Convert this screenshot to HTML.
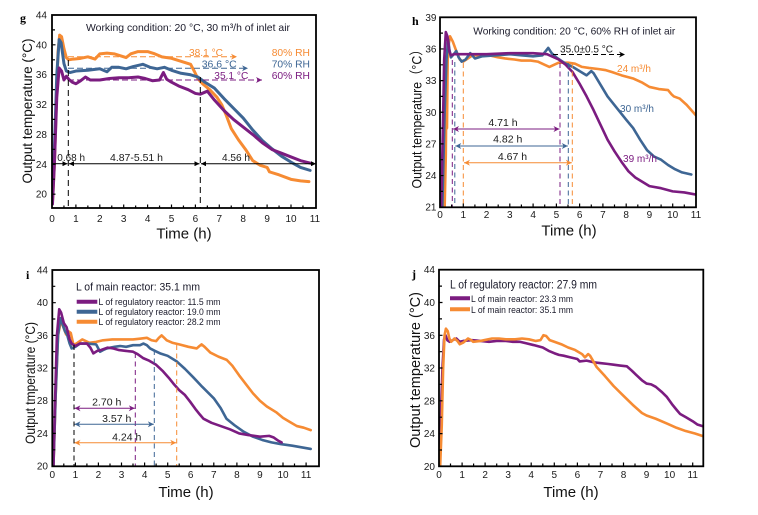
<!DOCTYPE html>
<html><head><meta charset="utf-8"><style>
html,body{margin:0;padding:0;background:#fff;}
svg{display:block;}
text{font-family:"Liberation Sans","Noto Sans CJK SC",sans-serif;}
.t{font-size:10px;fill:#1a1a1a;}
.c{fill:none;stroke-linejoin:round;stroke-linecap:round;}
</style></head><body>
<svg width="758" height="515" viewBox="0 0 758 515" xmlns="http://www.w3.org/2000/svg">
<defs>
<clipPath id="cg"><rect x="52" y="15" width="264" height="193"/></clipPath>
<clipPath id="ch"><rect x="440" y="17" width="256" height="190"/></clipPath>
<clipPath id="ci"><rect x="52" y="270" width="267" height="196"/></clipPath>
<clipPath id="cj"><rect x="439" y="270" width="264" height="196"/></clipPath>
<marker id="ak" viewBox="0 0 10 10" refX="10" refY="5" markerWidth="6" markerHeight="5" markerUnits="userSpaceOnUse" orient="auto-start-reverse"><path d="M0,0 L10,5 L0,10 z" fill="#000"/></marker>
<marker id="ao" viewBox="0 0 10 10" refX="10" refY="5" markerWidth="8" markerHeight="6" markerUnits="userSpaceOnUse" orient="auto-start-reverse"><path d="M0,0 L10,5 L0,10 L3,5 z" fill="#F68B33"/></marker>
<marker id="ab" viewBox="0 0 10 10" refX="10" refY="5" markerWidth="8" markerHeight="6" markerUnits="userSpaceOnUse" orient="auto-start-reverse"><path d="M0,0 L10,5 L0,10 L3,5 z" fill="#3E6694"/></marker>
<marker id="ap" viewBox="0 0 10 10" refX="10" refY="5" markerWidth="8" markerHeight="6" markerUnits="userSpaceOnUse" orient="auto-start-reverse"><path d="M0,0 L10,5 L0,10 L3,5 z" fill="#7B1C80"/></marker>
<marker id="ak2" viewBox="0 0 10 10" refX="10" refY="5" markerWidth="8" markerHeight="6" markerUnits="userSpaceOnUse" orient="auto-start-reverse"><path d="M0,0 L10,5 L0,10 L3,5 z" fill="#000"/></marker>
</defs>
<rect width="758" height="515" fill="#fff"/>

<!-- ================= PANEL g ================= -->
<g clip-path="url(#cg)">
<g transform="translate(52,343.68) scale(23.9,-7.47)">
<polyline class="c" vector-effect="non-scaling-stroke" stroke="#F68B33" stroke-width="3" points="0.02,19 0.1,24 0.18,32 0.25,39 0.32,41.3 0.4,41.1 0.5,39.5 0.6,38.3 0.7,38 0.9,38.1 1.2,38.2 1.5,38.4 1.8,38.1 2,38.8 2.3,38.9 2.6,38.8 2.9,38.5 3.1,38.3 3.3,38.8 3.6,39.1 4,39.1 4.3,38.8 4.6,38.4 5,38.2 5.3,37.9 5.6,37.6 5.8,37.4 5.95,36.5 6.1,35.5 6.3,34.8 6.6,34 6.9,33 7.1,32 7.3,30.5 7.5,28.8 7.8,27.3 8.1,26 8.4,24.5 8.7,23.9 9,23.6 9.1,23 9.5,22.6 10,22 10.4,21.8 10.75,21.7"/>
<polyline class="c" vector-effect="non-scaling-stroke" stroke="#3E6694" stroke-width="3" points="0.02,20 0.1,26 0.2,36 0.3,40.7 0.38,40.3 0.5,37.5 0.6,36.5 0.75,36.3 1,36.5 1.5,36.6 2,36.8 2.3,36.4 2.5,37 2.8,37 3.1,36.8 3.4,37.1 3.8,37.4 4.1,37 4.4,36.8 4.7,37 5,36.6 5.4,36.2 5.8,36 6.1,35.7 6.4,35 6.8,34.2 7.2,32.8 7.6,31.5 8,30.2 8.4,28.6 8.8,27.2 9.2,26.1 9.6,25.1 10,24.3 10.4,23.6 10.8,23.2"/>
<polyline class="c" vector-effect="non-scaling-stroke" stroke="#7B1C80" stroke-width="3" points="0.02,18.7 0.1,24 0.2,33 0.3,36.9 0.4,36.5 0.5,35.3 0.6,35.8 0.7,35.4 0.85,35 1,34.8 1.2,35.2 1.4,35.7 1.6,35.3 2,35.3 2.4,35.5 2.8,35.6 3.2,35.6 3.6,35.7 3.9,35.5 4.2,35.2 4.5,35.3 4.66,36.3 4.8,35.4 5,35 5.3,34.5 5.7,34 6,33.5 6.2,33.4 6.5,33.8 6.8,32.6 7.2,31.2 7.6,30 8,29 8.4,28 8.8,26.9 9.2,26 9.6,25.5 10,25 10.4,24.5 10.9,24.1"/>
</g>
</g>
<!-- g annotations -->
<line x1="68" y1="56.7" x2="237" y2="56.7" stroke="#F68B33" stroke-width="1" stroke-dasharray="6,3" marker-end="url(#ao)"/>
<line x1="68" y1="68.3" x2="248" y2="68.3" stroke="#3E6694" stroke-width="1" stroke-dasharray="6,3" marker-end="url(#ab)"/>
<line x1="68" y1="80" x2="262" y2="80" stroke="#7B1C80" stroke-width="1" stroke-dasharray="6,3" marker-end="url(#ap)"/>
<line x1="68.3" y1="60" x2="68.3" y2="208" stroke="#000" stroke-width="1" stroke-dasharray="6,4"/>
<line x1="200.3" y1="77" x2="200.3" y2="208" stroke="#000" stroke-width="1" stroke-dasharray="6,4"/>
<line x1="52" y1="163.7" x2="67.5" y2="163.7" stroke="#000" stroke-width="1" marker-end="url(#ak)"/>
<line x1="69" y1="163.7" x2="199.5" y2="163.7" stroke="#000" stroke-width="1" marker-start="url(#ak)" marker-end="url(#ak)"/>
<line x1="201" y1="163.7" x2="316" y2="163.7" stroke="#000" stroke-width="1" marker-start="url(#ak)" marker-end="url(#ak)"/>
<text x="57.3" y="161" font-size="10.5" fill="#1a1a1a" textLength="27.7" lengthAdjust="spacingAndGlyphs">0.68 h</text>
<text x="110" y="161" font-size="10.5" fill="#1a1a1a" textLength="53" lengthAdjust="spacingAndGlyphs">4.87-5.51 h</text>
<text x="222" y="161" font-size="10.5" fill="#1a1a1a" textLength="28" lengthAdjust="spacingAndGlyphs">4.56 h</text>
<text x="189" y="56" font-size="10.5" fill="#F68B33" textLength="34" lengthAdjust="spacingAndGlyphs">38.1 °C</text>
<text x="201.7" y="67.7" font-size="10.5" fill="#3E6694" textLength="35" lengthAdjust="spacingAndGlyphs">36.6 °C</text>
<text x="214.3" y="79" font-size="10.5" fill="#7B1C80" textLength="34" lengthAdjust="spacingAndGlyphs">35.1 °C</text>
<text x="271.7" y="56" font-size="10.5" fill="#F68B33" textLength="38.3" lengthAdjust="spacingAndGlyphs">80% RH</text>
<text x="271.7" y="67.7" font-size="10.5" fill="#3E6694" textLength="38.3" lengthAdjust="spacingAndGlyphs">70% RH</text>
<text x="271.7" y="79" font-size="10.5" fill="#7B1C80" textLength="38.3" lengthAdjust="spacingAndGlyphs">60% RH</text>
<text x="86" y="31" font-size="10.5" fill="#1a1a2a" textLength="204" lengthAdjust="spacingAndGlyphs">Working condition: 20 °C, 30 m³/h of inlet air</text>
<!-- g frame & ticks -->
<rect x="52" y="15" width="264" height="193" fill="none" stroke="#000" stroke-width="1.8"/>
<path d="M63.95,208v-2.5M75.9,208v-3.5M87.85,208v-2.5M99.8,208v-3.5M111.75,208v-2.5M123.7,208v-3.5M135.65,208v-2.5M147.6,208v-3.5M159.55,208v-2.5M171.5,208v-3.5M183.45,208v-2.5M195.4,208v-3.5M207.35,208v-2.5M219.3,208v-3.5M231.25,208v-2.5M243.2,208v-3.5M255.15,208v-2.5M267.1,208v-3.5M279.05,208v-2.5M291,208v-3.5M302.95,208v-2.5M52,29.9h3M52,44.8h3.5M52,59.8h3M52,74.6h3.5M52,89.6h3M52,104.5h3.5M52,119.4h3M52,134.4h3.5M52,149.3h3M52,164.3h3.5M52,179.2h3M52,194.2h3.5" stroke="#000" stroke-width="1.2"/>
<g class="t" text-anchor="end">
<text x="47" y="18.5">44</text><text x="47" y="48.3">40</text><text x="47" y="78.1">36</text><text x="47" y="108">32</text><text x="47" y="137.9">28</text><text x="47" y="167.8">24</text><text x="47" y="197.7">20</text>
</g>
<g class="t" text-anchor="middle">
<text x="52" y="222">0</text><text x="75.9" y="222">1</text><text x="99.8" y="222">2</text><text x="123.7" y="222">3</text><text x="147.6" y="222">4</text><text x="171.5" y="222">5</text><text x="195.4" y="222">6</text><text x="219.3" y="222">7</text><text x="243.2" y="222">8</text><text x="267.1" y="222">9</text><text x="291" y="222">10</text><text x="314.9" y="222">11</text>
</g>
<text x="184" y="238.5" font-size="15" text-anchor="middle" fill="#111">Time (h)</text>
<text transform="translate(32,111) rotate(-90)" font-size="14" text-anchor="middle" fill="#111" textLength="145" lengthAdjust="spacingAndGlyphs">Output temperature (°C)</text>
<text x="20" y="22" font-size="12" font-weight="bold" style="font-family:'Liberation Serif',serif">g</text>

<!-- ================= PANEL h ================= -->
<g clip-path="url(#ch)">
<g transform="translate(440,428.75) scale(23.27,-10.55)">
<polyline class="c" vector-effect="non-scaling-stroke" stroke="#F68B33" stroke-width="2.6" points="0.2,21 0.25,26 0.28,33 0.3,28.5 0.33,35 0.38,36.5 0.43,37.2 0.55,36.7 0.7,35.8 0.85,35 1,34.8 1.2,35.1 1.4,35.4 1.8,35.4 2.1,35.4 2.5,35.2 2.8,35.1 3.2,35 3.5,34.9 3.9,34.9 4.2,34.8 4.5,34.5 4.7,34.3 4.9,34.5 5.1,34.7 5.5,34.7 5.8,34.6 6.1,34.3 6.4,34.2 6.8,34.1 7.1,34 7.4,33.8 7.8,33.5 8.3,33.2 8.7,32.8 9,32.4 9.4,32.2 9.8,32.1 9.95,31.7 10.05,31.5 10.3,31.3 10.6,30.7 11,29.7"/>
<polyline class="c" vector-effect="non-scaling-stroke" stroke="#3E6694" stroke-width="2.6" points="0.1,21 0.2,30 0.28,35 0.35,36.9 0.4,36 0.47,35.2 0.55,35.4 0.7,35.8 0.8,35.2 0.93,34.8 1.1,35 1.3,35.6 1.5,35.1 1.8,35.3 2.4,35.4 3,35.5 3.5,35.4 4,35.3 4.4,35.4 4.65,36.1 4.8,35.6 5,35.2 5.4,34.6 5.7,34.3 6,33.9 6.3,33.5 6.5,33.9 6.6,33.7 6.9,32.6 7.2,31.5 7.6,30.4 8,29.3 8.3,28.5 8.6,27.4 8.9,26.4 9.2,25.8 9.5,25.5 9.8,25 10.1,24.6 10.4,24.3 10.8,24.1"/>
<polyline class="c" vector-effect="non-scaling-stroke" stroke="#7B1C80" stroke-width="2.6" points="0.05,21 0.12,28 0.18,35 0.25,37.6 0.32,37.2 0.4,35.8 0.47,35.4 0.6,35.5 1,35.5 2,35.5 3,35.6 4,35.6 4.6,35.5 4.8,35.3 5.1,35 5.4,34.5 5.7,33.8 6,32.7 6.3,31.5 6.6,30.2 6.9,28.8 7.2,27.4 7.5,26.3 7.8,25.3 8.1,24.4 8.4,23.8 8.7,23.4 9,23 9.5,22.8 10,22.5 10.5,22.4 11,22.2"/>
</g>
</g>
<!-- h annotations -->
<g stroke-width="1" stroke-dasharray="5,3.5">
<line x1="452.3" y1="60" x2="452.3" y2="207" stroke="#7B1C80"/>
<line x1="454.8" y1="62" x2="454.8" y2="207" stroke="#3E6694"/>
<line x1="463.3" y1="63" x2="463.3" y2="207" stroke="#F68B33"/>
<line x1="560" y1="63" x2="560" y2="207" stroke="#7B1C80"/>
<line x1="568.3" y1="63" x2="568.3" y2="207" stroke="#3E6694"/>
<line x1="572.3" y1="63" x2="572.3" y2="207" stroke="#F68B33"/>
</g>
<line x1="453" y1="129" x2="559.5" y2="129" stroke="#7B1C80" stroke-width="1" marker-start="url(#ap)" marker-end="url(#ap)"/>
<line x1="455.3" y1="146" x2="567.8" y2="146" stroke="#3E6694" stroke-width="1" marker-start="url(#ab)" marker-end="url(#ab)"/>
<line x1="464" y1="162.7" x2="571.8" y2="162.7" stroke="#F68B33" stroke-width="1" marker-start="url(#ao)" marker-end="url(#ao)"/>
<text x="503" y="126" font-size="10.5" fill="#1a1a1a" text-anchor="middle">4.71 h</text>
<text x="507.7" y="142.7" font-size="10.5" fill="#1a1a1a" text-anchor="middle">4.82 h</text>
<text x="512.5" y="160" font-size="10.5" fill="#1a1a1a" text-anchor="middle">4.67 h</text>
<line x1="553" y1="54.5" x2="625" y2="54.5" stroke="#000" stroke-width="1" stroke-dasharray="5,3" marker-end="url(#ak2)"/>
<text x="560" y="52.5" font-size="10.5" fill="#1a1a1a" textLength="53" lengthAdjust="spacingAndGlyphs">35.0±0.5 °C</text>
<text x="617" y="72" font-size="10.5" fill="#F68B33" textLength="34" lengthAdjust="spacingAndGlyphs">24 m³/h</text>
<text x="620" y="112" font-size="10.5" fill="#3E6694" textLength="34" lengthAdjust="spacingAndGlyphs">30 m³/h</text>
<text x="623" y="162" font-size="10.5" fill="#7B1C80" textLength="34" lengthAdjust="spacingAndGlyphs">39 m³/h</text>
<text x="473.3" y="34.5" font-size="10.5" fill="#1a1a2a" textLength="202" lengthAdjust="spacingAndGlyphs">Working condition: 20 °C, 60% RH of inlet air</text>
<rect x="440" y="17.3" width="256" height="190" fill="none" stroke="#000" stroke-width="1.8"/>
<path d="M451.6,207v-2.5M463.3,207v-3.5M474.9,207v-2.5M486.5,207v-3.5M498.2,207v-2.5M509.8,207v-3.5M521.4,207v-2.5M533.1,207v-3.5M544.7,207v-2.5M556.4,207v-3.5M568,207v-2.5M579.6,207v-3.5M591.3,207v-2.5M602.9,207v-3.5M614.5,207v-2.5M626.2,207v-3.5M637.8,207v-2.5M649.4,207v-3.5M661.1,207v-2.5M672.7,207v-3.5M684.3,207v-2.5M440,33.1h3M440,48.95h3.5M440,64.8h3M440,80.6h3.5M440,96.4h3M440,112.25h3.5M440,128.1h3M440,143.9h3.5M440,159.7h3M440,175.55h3.5M440,191.4h3" stroke="#000" stroke-width="1.2"/>
<g class="t" text-anchor="end">
<text x="436.5" y="20.8">39</text><text x="436.5" y="52.5">36</text><text x="436.5" y="84.1">33</text><text x="436.5" y="115.8">30</text><text x="436.5" y="147.4">27</text><text x="436.5" y="179">24</text><text x="436.5" y="210.7">21</text>
</g>
<g class="t" text-anchor="middle">
<text x="440" y="218">0</text><text x="463.3" y="218">1</text><text x="486.5" y="218">2</text><text x="509.8" y="218">3</text><text x="533.1" y="218">4</text><text x="556.4" y="218">5</text><text x="579.6" y="218">6</text><text x="602.9" y="218">7</text><text x="626.2" y="218">8</text><text x="649.4" y="218">9</text><text x="672.7" y="218">10</text><text x="696" y="218">11</text>
</g>
<text x="569" y="235.5" font-size="15" text-anchor="middle" fill="#111">Time (h)</text>
<text transform="translate(421.5,116) rotate(-90)" font-size="14" text-anchor="middle" fill="#111" textLength="145" lengthAdjust="spacingAndGlyphs">Output temperature（°C）</text>
<text x="412" y="25" font-size="12" font-weight="bold" style="font-family:'Liberation Serif',serif">h</text>

<!-- ================= PANEL i ================= -->
<g clip-path="url(#ci)">
<g transform="translate(52.3,629.5) scale(23.07,-8.17)">
<polyline class="c" vector-effect="non-scaling-stroke" stroke="#F68B33" stroke-width="2.6" points="0.05,20 0.15,29 0.25,36 0.38,37.9 0.48,37 0.6,36.1 0.7,36.5 0.8,36.3 0.92,34.8 1.1,35.1 1.3,35.5 1.6,35.1 1.9,35.2 2.2,35.4 2.6,35.5 3,35.5 3.5,35.5 3.8,35.6 4.1,35.7 4.3,35.4 4.5,35.3 4.62,35.7 4.74,36 4.85,35.7 4.96,35.4 5.2,35.1 5.5,34.9 5.9,34.6 6.26,34.4 6.38,34.7 6.47,34.9 6.6,34.6 6.85,33.9 7.2,33.4 7.56,33 7.8,32.3 8.1,31.1 8.4,30 8.7,28.9 9,28 9.3,27.3 9.7,26.6 10,25.9 10.3,25.4 10.6,24.9 10.9,24.7 11.2,24.4"/>
<polyline class="c" vector-effect="non-scaling-stroke" stroke="#3E6694" stroke-width="2.6" points="0.05,20 0.15,29 0.25,36 0.35,38.1 0.45,37.3 0.55,36.5 0.64,36.1 0.75,35 0.84,34.4 1,34.6 1.2,35 1.5,35 1.9,34.9 2.07,34 2.2,34.2 2.36,34.4 2.7,34.6 2.94,34.7 3.2,34.6 3.5,34.8 3.8,34.8 3.95,35 4.1,34.8 4.24,34.4 4.45,34.1 4.67,33.8 5,33.5 5.4,32.8 5.75,31.9 6.1,30.9 6.5,29.7 7,28.3 7.3,27.1 7.55,25.8 7.9,25 8.3,24.2 8.7,23.6 9.1,23.2 9.5,22.9 9.9,22.7 10.4,22.5 10.8,22.3 11.2,22.1"/>
<polyline class="c" vector-effect="non-scaling-stroke" stroke="#7B1C80" stroke-width="2.6" points="0.05,20 0.12,28 0.2,36 0.3,39.2 0.38,38.8 0.5,37.5 0.62,37 0.75,35.5 0.84,35 1,34.7 1.2,35 1.5,35 1.65,34.5 1.78,33.8 1.95,34.1 2.1,34.2 2.4,34.5 2.65,34.4 2.9,34.2 3.2,34.1 3.5,34 3.7,33.7 3.95,33.2 4.2,32.9 4.5,32.4 4.8,31.6 5.05,30.8 5.25,30.1 5.5,29.3 5.75,28.7 5.97,27.9 6.2,27 6.4,26.3 6.55,25.8 6.9,25.3 7.3,24.9 7.7,24.5 8.1,24 8.5,23.8 9,23.6 9.4,23.7 9.6,23.5 9.8,23.1 9.94,22.9"/>
</g>
</g>
<g stroke-width="1" stroke-dasharray="5,3.5">
<line x1="74" y1="345" x2="74" y2="466" stroke="#000"/>
<line x1="135.3" y1="353" x2="135.3" y2="466" stroke="#7B1C80"/>
<line x1="154.3" y1="350" x2="154.3" y2="466" stroke="#3E6694"/>
<line x1="176.7" y1="345" x2="176.7" y2="466" stroke="#F68B33"/>
</g>
<line x1="74.5" y1="408.3" x2="134.8" y2="408.3" stroke="#7B1C80" stroke-width="1" marker-start="url(#ap)" marker-end="url(#ap)"/>
<line x1="74.5" y1="424.3" x2="153.8" y2="424.3" stroke="#3E6694" stroke-width="1" marker-start="url(#ab)" marker-end="url(#ab)"/>
<line x1="74.5" y1="442.7" x2="176.2" y2="442.7" stroke="#F68B33" stroke-width="1" marker-start="url(#ao)" marker-end="url(#ao)"/>
<text x="106.7" y="405.5" font-size="10.5" fill="#1a1a1a" text-anchor="middle">2.70 h</text>
<text x="116.7" y="421.8" font-size="10.5" fill="#1a1a1a" text-anchor="middle">3.57 h</text>
<text x="126.7" y="440.3" font-size="10.5" fill="#1a1a1a" text-anchor="middle">4.24 h</text>
<text x="76" y="290.5" font-size="11" fill="#1a1a2a" textLength="124" lengthAdjust="spacingAndGlyphs">L of main reactor: 35.1 mm</text>
<line x1="76.7" y1="301.7" x2="97.3" y2="301.7" stroke="#7B1C80" stroke-width="4"/>
<line x1="76.7" y1="311.7" x2="97.3" y2="311.7" stroke="#3E6694" stroke-width="4"/>
<line x1="76.7" y1="321.7" x2="97.3" y2="321.7" stroke="#F68B33" stroke-width="4"/>
<text x="98.5" y="305.2" font-size="9.5" fill="#1a1a2a" textLength="122" lengthAdjust="spacingAndGlyphs">L of regulatory reactor: 11.5 mm</text>
<text x="98.5" y="315.2" font-size="9.5" fill="#1a1a2a" textLength="122" lengthAdjust="spacingAndGlyphs">L of regulatory reactor: 19.0 mm</text>
<text x="98.5" y="325.2" font-size="9.5" fill="#1a1a2a" textLength="122" lengthAdjust="spacingAndGlyphs">L of regulatory reactor: 28.2 mm</text>
<rect x="52.3" y="270" width="266.7" height="196.3" fill="none" stroke="#000" stroke-width="1.8"/>
<path d="M63.8,466v-2.5M75.4,466v-3.5M86.9,466v-2.5M98.4,466v-3.5M110,466v-2.5M121.5,466v-3.5M133,466v-2.5M144.6,466v-3.5M156.1,466v-2.5M167.7,466v-3.5M179.2,466v-2.5M190.7,466v-3.5M202.3,466v-2.5M213.8,466v-3.5M225.3,466v-2.5M236.9,466v-3.5M248.4,466v-2.5M259.9,466v-3.5M271.5,466v-2.5M283,466v-3.5M294.5,466v-2.5M306.1,466v-3.5M52.3,286.3h3M52.3,302.7h3.5M52.3,319h3M52.3,335.4h3.5M52.3,351.7h3M52.3,368h3.5M52.3,384.3h3M52.3,400.7h3.5M52.3,417h3M52.3,433.4h3.5M52.3,449.8h3" stroke="#000" stroke-width="1.2"/>
<g class="t" text-anchor="end">
<text x="48" y="273.5">44</text><text x="48" y="306.2">40</text><text x="48" y="338.9">36</text><text x="48" y="371.5">32</text><text x="48" y="404.2">28</text><text x="48" y="436.9">24</text><text x="48" y="469.6">20</text>
</g>
<g class="t" text-anchor="middle">
<text x="52.3" y="478">0</text><text x="75.4" y="478">1</text><text x="98.4" y="478">2</text><text x="121.5" y="478">3</text><text x="144.6" y="478">4</text><text x="167.7" y="478">5</text><text x="190.7" y="478">6</text><text x="213.8" y="478">7</text><text x="236.9" y="478">8</text><text x="259.9" y="478">9</text><text x="283" y="478">10</text><text x="306.1" y="478">11</text>
</g>
<text x="186" y="497" font-size="15" text-anchor="middle" fill="#111">Time (h)</text>
<text transform="translate(35,383) rotate(-90)" font-size="14" text-anchor="middle" fill="#111" textLength="122" lengthAdjust="spacingAndGlyphs">Output tmperature (°C)</text>
<text x="26" y="279" font-size="12" font-weight="bold" style="font-family:'Liberation Serif',serif">i</text>

<!-- ================= PANEL j ================= -->
<g clip-path="url(#cj)">
<g transform="translate(439,630.06) scale(23.06,-8.19)">
<polyline class="c" vector-effect="non-scaling-stroke" stroke="#7B1C80" stroke-width="2.6" points="0.02,22.4 0.08,26 0.15,32 0.22,35.5 0.28,36 0.36,35.4 0.46,35.2 0.6,35.4 0.75,35.6 0.9,35.2 1.05,35.3 1.45,35.4 1.8,35.3 2.17,35.2 2.5,35.3 2.9,35.3 3.2,35.2 3.5,35.2 3.8,35 4.1,34.8 4.5,34.5 4.75,34.1 5,33.8 5.2,33.6 5.4,33.5 5.7,33.3 6,33.1 6.1,32.8 6.4,32.9 6.7,32.7 6.98,32.6 7.3,32.5 7.57,32.4 7.85,32.3 8.15,32.2 8.35,31.7 8.57,31.1 8.8,30.5 9,30.1 9.2,30 9.4,29.7 9.65,29.1 9.87,28.5 10.1,27.6 10.3,26.9 10.45,26.4 10.7,26 11,25.5 11.2,25.1 11.43,24.9"/>
<polyline class="c" vector-effect="non-scaling-stroke" stroke="#F68B33" stroke-width="2.6" points="0.05,20 0.12,25 0.18,32 0.24,36 0.3,36.8 0.38,36.5 0.45,35.6 0.53,35.2 0.67,35.6 0.8,35.3 0.9,34.9 1.05,35.1 1.26,35.6 1.4,35.4 1.48,35.2 1.8,35.3 2.3,35.6 2.6,35.6 2.9,35.5 3.3,35.5 3.6,35.6 3.9,35.5 4.2,35.3 4.4,35.4 4.53,36 4.65,35.9 4.8,35.4 5,35.2 5.3,34.9 5.6,34.5 5.9,34.2 6.2,33.7 6.33,33.3 6.47,33.7 6.55,33.5 6.84,32.1 7.2,31 7.57,29.8 8,28.6 8.44,27.4 8.8,26.5 9,26.2 9.4,25.8 9.9,25.2 10.3,24.7 10.7,24.3 11.1,24 11.43,23.7"/>
</g>
</g>
<text x="450" y="288.5" font-size="11.5" fill="#1a1a2a" textLength="147" lengthAdjust="spacingAndGlyphs">L of regulatory reactor: 27.9 mm</text>
<line x1="450" y1="298.3" x2="470" y2="298.3" stroke="#7B1C80" stroke-width="4"/>
<line x1="450" y1="309.3" x2="470" y2="309.3" stroke="#F68B33" stroke-width="4"/>
<text x="471" y="301.8" font-size="9.5" fill="#1a1a2a" textLength="102" lengthAdjust="spacingAndGlyphs">L of main reactor: 23.3 mm</text>
<text x="471" y="312.8" font-size="9.5" fill="#1a1a2a" textLength="102" lengthAdjust="spacingAndGlyphs">L of main reactor: 35.1 mm</text>
<rect x="439" y="269.7" width="264.3" height="196.6" fill="none" stroke="#000" stroke-width="1.8"/>
<path d="M450.5,466v-2.5M462.1,466v-3.5M473.6,466v-2.5M485.1,466v-3.5M496.7,466v-2.5M508.2,466v-3.5M519.7,466v-2.5M531.2,466v-3.5M542.8,466v-2.5M554.3,466v-3.5M565.8,466v-2.5M577.4,466v-3.5M588.9,466v-2.5M600.4,466v-3.5M612,466v-2.5M623.5,466v-3.5M635,466v-2.5M646.5,466v-3.5M658.1,466v-2.5M669.6,466v-3.5M681.1,466v-2.5M692.7,466v-3.5M439,286.1h3M439,302.5h3.5M439,318.9h3M439,335.3h3.5M439,351.7h3M439,368h3.5M439,384.4h3M439,400.8h3.5M439,417.2h3M439,433.6h3.5M439,450h3" stroke="#000" stroke-width="1.2"/>
<g class="t" text-anchor="end">
<text x="435" y="273.2">44</text><text x="435" y="306">40</text><text x="435" y="338.8">36</text><text x="435" y="371.5">32</text><text x="435" y="404.3">28</text><text x="435" y="437.1">24</text><text x="435" y="469.8">20</text>
</g>
<g class="t" text-anchor="middle">
<text x="439" y="478">0</text><text x="462.1" y="478">1</text><text x="485.1" y="478">2</text><text x="508.2" y="478">3</text><text x="531.2" y="478">4</text><text x="554.3" y="478">5</text><text x="577.4" y="478">6</text><text x="600.4" y="478">7</text><text x="623.5" y="478">8</text><text x="646.5" y="478">9</text><text x="669.6" y="478">10</text><text x="692.7" y="478">11</text>
</g>
<text x="571" y="497" font-size="15" text-anchor="middle" fill="#111">Time (h)</text>
<text transform="translate(420,370) rotate(-90)" font-size="14.5" text-anchor="middle" fill="#111" textLength="156" lengthAdjust="spacingAndGlyphs">Output temperature (°C)</text>
<text x="412" y="278" font-size="12" font-weight="bold" style="font-family:'Liberation Serif',serif">j</text>
</svg>
</body></html>
